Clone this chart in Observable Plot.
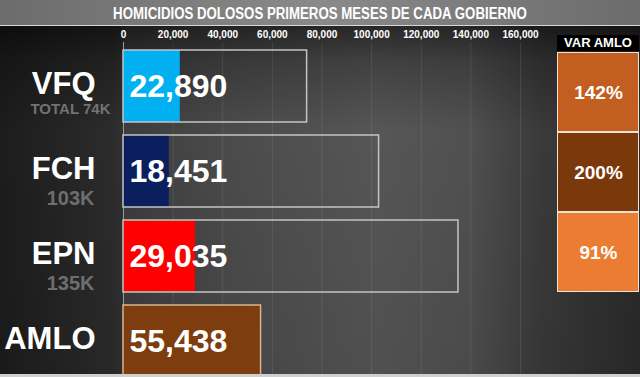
<!DOCTYPE html>
<html>
<head>
<meta charset="utf-8">
<script src="https://cdn.jsdelivr.net/npm/d3@7"></script>
<script src="https://cdn.jsdelivr.net/npm/@observablehq/plot@0.6"></script>
<style>
  html, body { margin: 0; padding: 0; background: #1b1b1b; }
  #wrap {
    position: relative; width: 640px; height: 377px; overflow: hidden;
    font-family: "Liberation Sans", Arial, sans-serif;
    background:
      linear-gradient(to bottom, rgba(0,0,0,0.55) 25px, rgba(0,0,0,0.25) 60px, rgba(0,0,0,0) 130px, rgba(0,0,0,0.08) 377px),
      linear-gradient(to right, #1c1c1c 0px, #2b2b2b 110px, #303030 122px, #3c3c3c 124px, #4b4b4b 230px, #565656 380px, #505050 470px, #3a3a3a 540px, #2a2a2a 640px);
  }
  #title {
    position: absolute; left: 0; top: 0; width: 640px; height: 25px;
    background: linear-gradient(to right, #6c6c6c, #8a8a8a 50%, #6c6c6c);
    border-bottom: 1px solid #d8d8d8;
  }
  #title svg { display: block; }
  #main { position: absolute; left: 0; top: 25px; }
  #varhead {
    position: absolute; left: 557px; top: 35px; width: 82px; height: 16px;
    background: #000; color: #fff; font-weight: bold; font-size: 13px;
    line-height: 16px; text-align: center;
  }
  #varplot { position: absolute; left: 557px; top: 51px; }
  #bottomline { position: absolute; left: 0; top: 374px; width: 640px; height: 3px; background: #cfcfcf; }
</style>
</head>
<body>
<div id="wrap">
  <div id="title"></div>
  <div id="main"></div>
  <div id="varhead"></div>
  <div id="varplot"></div>
  <div id="bottomline"></div>
</div>
<script>
const titleText = "HOMICIDIOS DOLOSOS PRIMEROS MESES DE CADA GOBIERNO";
const names = ["VFQ", "FCH", "EPN", "AMLO"];
const values = [22890, 18451, 29035, 55438];
const totals = [74000, 103000, 135000, null];
const subLabels = ["TOTAL 74K", "103K", "135K", ""];
const barColors = ["#00b0f0", "#0b1f5f", "#ff0000", "#7d3d0e"];
const xTicks = [0, 20000, 40000, 60000, 80000, 100000, 120000, 140000, 160000];
const varHeader = "VAR AMLO";
const varNames = ["VFQ", "FCH", "EPN"];
const varLabels = ["142%", "200%", "91%"];
const varColors = ["#c25f20", "#7b390b", "#ea7d31"];

// Title (condensed horizontally to the reference's width)
const tsvg = d3.select("#title").append("svg").attr("width", 640).attr("height", 25);
const tg = tsvg.append("g");
const tt = tg.append("text")
  .attr("x", 0).attr("y", 0).attr("text-anchor", "middle")
  .attr("fill", "#fff")
  .style("font-family", "'Liberation Sans', Arial, sans-serif")
  .style("font-weight", "bold").style("font-size", "17px")
  .text(titleText);
const natural = tt.node().getComputedTextLength() || 560;
tg.attr("transform", `translate(320,19) scale(${414 / natural},1)`);

document.getElementById("varhead").textContent = varHeader;

const rows = names.map((n, i) => ({
  name: n, value: values[i], total: totals[i], sub: subLabels[i], color: barColors[i]
}));
const fmt = d3.format(",");
const font = "'Liberation Sans', Arial, sans-serif";

const main = Plot.plot({
  width: 640, height: 352,
  marginTop: 24, marginBottom: 0, marginLeft: 123, marginRight: 0,
  style: { background: "transparent", color: "#fff", fontFamily: font, fontSize: "10px", fontWeight: "bold", overflow: "visible" },
  x: { domain: [0, 160000], range: [123, 520], axis: "top", ticks: xTicks, tickFormat: d => fmt(d), tickSize: 0, tickPadding: 12, label: null },
  y: { domain: names, range: [24, 352], paddingInner: 0.158, paddingOuter: 0, axis: null },
  color: { type: "identity" },
  marks: [
    Plot.ruleX(xTicks.slice(1), { stroke: "#ffffff", strokeOpacity: 0.09, insetTop: -7 }),
    Plot.ruleX([0], { stroke: "#9a9a9a", insetTop: -7 }),
    Plot.barX(rows, { x1: 0, x2: "value", y: "name", fill: "color" }),
    Plot.barX(rows.filter(d => d.total != null), { x1: 0, x2: "total", y: "name", fill: "none", stroke: "#c4c4c4", strokeWidth: 1.5 }),
    Plot.barX(rows.filter(d => d.total == null), { x1: 0, x2: "value", y: "name", fill: "none", stroke: "#d6b48f", strokeWidth: 1.5 }),
    Plot.text(rows, { x: 0, y: "name", text: d => fmt(d.value), textAnchor: "start", dx: 6, fill: "#fff", fontSize: 32, fontWeight: "bold", fontFamily: font }),
    Plot.text(rows, { x: 0, y: "name", text: "name", textAnchor: "end", dx: -28, dy: -2, fill: "#fff", fontSize: 31, fontWeight: "bold", fontFamily: font }),
    Plot.text(rows.filter((d, i) => i === 0), { x: 0, y: "name", text: "sub", textAnchor: "end", dx: -13, dy: 23, fill: "#727272", fontSize: 15, fontWeight: "bold", fontFamily: font }),
    Plot.text(rows.filter((d, i) => i > 0 && d.sub), { x: 0, y: "name", text: "sub", textAnchor: "end", dx: -29, dy: 27, fill: "#6e6e6e", fontSize: 20, fontWeight: "bold", fontFamily: font })
  ]
});
document.getElementById("main").appendChild(main);

const varRows = varNames.map((n, i) => ({ name: n, label: varLabels[i], color: varColors[i] }));
const varPlot = Plot.plot({
  width: 82, height: 241, margin: 0,
  style: { background: "transparent", overflow: "visible" },
  x: { axis: null },
  y: { domain: varNames, paddingInner: 0, paddingOuter: 0, axis: null },
  color: { type: "identity" },
  marks: [
    Plot.cell(varRows, { y: "name", fill: "color", stroke: "#f0e2d4", strokeWidth: 1, inset: 0.5 }),
    Plot.text(varRows, { y: "name", text: "label", fill: "#fff", fontSize: 19, fontWeight: "bold", fontFamily: "'Liberation Sans', Arial, sans-serif" })
  ]
});
document.getElementById("varplot").appendChild(varPlot);
</script>
</body>
</html>
